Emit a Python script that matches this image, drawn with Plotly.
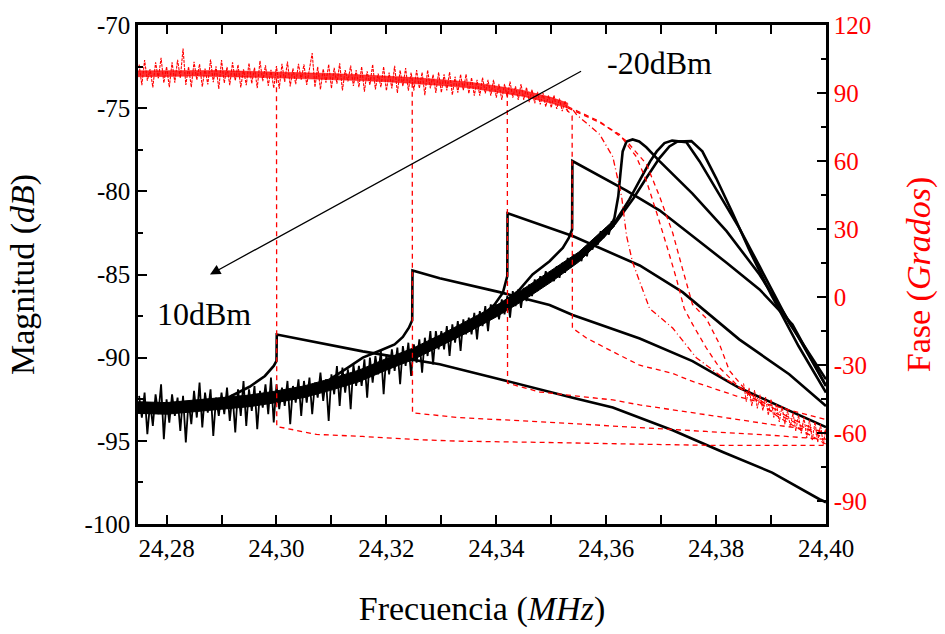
import plotly.graph_objects as go

# ---------------- data ----------------
# common noisy magnitude band (all powers overlap here), dB, every 0.0005 MHz from 24.275
band_f = [round(24.275 + 0.0005 * i, 4) for i in range(174)]
band_mag = [
    -92.3, -93.6, -92.1, -94.6, -92.7, -94.1, -92.2, -93.4, -91.6, -94.9,
    -92.5, -93.9, -92.2, -93.5, -92.4, -94.4, -92.3, -95.1, -92.6, -94.0,
    -92.0, -93.6, -91.5, -94.2, -92.1, -93.3, -91.9, -94.7, -92.4, -93.5,
    -92.1, -93.4, -91.8, -93.8, -92.2, -94.5, -91.9, -93.5, -91.4, -94.1,
    -91.9, -93.2, -91.7, -94.3, -92.0, -93.0, -91.6, -93.4, -91.2, -93.9,
    -91.6, -93.1, -91.8, -92.9, -91.4, -94.0, -91.7, -92.7, -91.3, -93.5,
    -91.4, -92.7, -91.2, -93.4, -91.5, -92.4, -90.9, -92.6, -91.3, -93.8,
    -91.0, -92.2, -90.5, -92.9, -90.6, -92.1, -90.7, -93.1, -90.4, -91.7,
    -90.5, -91.7, -90.1, -92.4, -90.0, -91.5, -89.9, -91.0, -89.6, -92.2,
    -89.8, -91.0, -89.5, -90.8, -89.4, -91.6, -89.3, -90.5, -89.1, -91.1,
    -89.2, -90.3, -88.9, -90.9, -88.8, -89.9, -88.4, -90.4, -88.4, -89.5,
    -88.4, -89.5, -88.1, -89.9, -88.0, -89.1, -87.8, -89.6, -87.7, -88.6,
    -87.6, -88.6, -87.3, -88.9, -87.2, -88.1, -86.9, -88.4, -86.8, -87.6,
    -86.8, -87.7, -86.5, -87.4, -86.3, -87.6, -86.0, -86.9, -85.9, -87.0,
    -85.8, -86.6, -85.6, -86.3, -85.3, -86.0, -85.1, -85.7, -84.8, -85.5,
    -84.8, -85.4, -84.5, -85.2, -84.3, -84.9, -84.0, -84.6, -83.8, -84.3,
    -83.7, -84.2, -83.4, -83.9, -83.1, -83.5, -82.8, -83.2, -82.4, -82.8,
    -82.2, -82.6, -81.8, -82.1,
]
# solid core of that band (upper / lower edge)
core_f = [24.2748, 24.280, 24.285, 24.290, 24.295, 24.300, 24.305, 24.310, 24.315, 24.320,
          24.325, 24.330, 24.335, 24.340, 24.345, 24.350, 24.355, 24.360, 24.3615]
core_hi = [-92.65, -92.7, -92.55, -92.4, -92.25, -92.0, -91.7, -91.25, -90.75, -90.05,
           -89.4, -88.6, -87.75, -86.85, -85.85, -84.75, -83.65, -82.15, -81.7]
core_lo = [-93.35, -93.4, -93.25, -93.1, -92.95, -92.7, -92.4, -91.95, -91.45, -90.75,
           -90.1, -89.3, -88.45, -87.55, -86.55, -85.45, -84.25, -82.65, -82.1]

# magnitude curves, 10 dBm (A) ... -20 dBm (G)
magA_f = [24.2880, 24.2915, 24.2951, 24.2979, 24.2995, 24.3000, 24.30005, 24.3157,
          24.3297, 24.3419, 24.3539, 24.3612, 24.3721, 24.3812, 24.3902, 24.3988, 24.4000]
magA_v = [-92.85, -92.35, -91.75, -91.1, -90.5, -90.2, -88.61, -89.62,
          -90.39, -91.40, -92.41, -93.0, -94.36, -95.67, -96.91, -98.51, -98.69]

magB_f = [24.3097, 24.3130, 24.3157, 24.3190, 24.3215, 24.3230, 24.3241, 24.3247, 24.32475,
          24.3297, 24.3406, 24.3497, 24.3539, 24.3661, 24.3757, 24.3842, 24.3933, 24.4000]
magB_v = [-91.3, -90.6, -90.0, -89.55, -89.2, -88.75, -88.2, -87.75, -84.76,
          -85.23, -86.06, -86.83, -87.43, -88.85, -90.21, -91.81, -93.18, -94.18]

magC_f = [24.3278, 24.3333, 24.3370, 24.3397, 24.3412, 24.3420, 24.34205,
          24.3539, 24.3661, 24.3739, 24.3842, 24.3933, 24.4000]
magC_v = [-89.0, -88.3, -87.6, -86.8, -86.1, -85.1, -81.32,
          -82.69, -84.46, -86.06, -88.9, -91.0, -92.9]

magD_f = [24.3400, 24.3440, 24.3466, 24.3497, 24.3521, 24.3532, 24.3538, 24.35385,
          24.3637, 24.3697, 24.3757, 24.3819, 24.3879, 24.3939, 24.4000]
magD_v = [-87.0, -86.0, -85.0, -84.2, -83.4, -82.8, -82.3, -78.18,
          -79.96, -81.14, -82.69, -84.29, -85.9, -88.0, -91.7]

magE_f = [24.3570, 24.3590, 24.3606, 24.3615, 24.3622, 24.3626, 24.3630, 24.3637, 24.3648,
          24.3660, 24.3673, 24.3697, 24.3757, 24.3819, 24.3879, 24.3939, 24.4000]
magE_v = [-83.5, -82.9, -82.3, -81.6, -80.3, -78.9, -77.6, -77.0, -76.88,
          -77.0, -77.35, -78.18, -80.14, -82.39, -85.0, -88.14, -91.7]

magF_f = [24.3615, 24.3642, 24.3660, 24.3680, 24.3692, 24.3706, 24.3720, 24.3746,
          24.3770, 24.3806, 24.3842, 24.3879, 24.3933, 24.4000]
magF_v = [-81.9, -80.5, -79.4, -78.2, -77.6, -77.1, -76.95, -77.05,
          -78.2, -80.2, -82.2, -84.5, -87.9, -91.3]

magG_f = [24.3615, 24.3650, 24.3673, 24.3697, 24.3715, 24.3730, 24.3755, 24.3775,
          24.3800, 24.3830, 24.3860, 24.3900, 24.3950, 24.4000]
magG_v = [-82.0, -80.4, -79.2, -78.0, -77.3, -77.0, -76.98, -77.6,
          -79.2, -81.3, -83.5, -86.2, -89.3, -92.1]

# common noisy phase band, degrees, every 0.0005 MHz from 24.275
pband_f = [round(24.275 + 0.0005 * i, 4) for i in range(157)]
pband_v = [
    102.5, 93.5, 104.5, 95.5, 100.5, 92.5, 103.5, 96.5, 105.5, 94.5,
    101.6, 92.6, 103.6, 94.6, 104.6, 96.6, 109.6, 93.6, 101.6, 92.6,
    103.8, 95.8, 102.8, 92.8, 100.8, 93.8, 104.8, 94.8, 101.8, 91.8,
    104.5, 94.5, 101.5, 93.5, 103.5, 95.5, 102.5, 92.5, 100.5, 93.5,
    103.2, 94.2, 101.2, 92.2, 104.2, 95.2, 102.2, 93.2, 100.2, 92.2,
    101.9, 91.9, 102.9, 94.9, 103.9, 92.9, 100.9, 93.9, 102.9, 95.9,
    102.6, 93.6, 100.6, 107.6, 92.6, 101.6, 91.6, 100.6, 94.6, 102.6,
    92.1, 101.1, 94.1, 103.1, 91.1, 100.1, 95.1, 102.1, 93.1, 100.1,
    92.6, 101.6, 90.6, 99.6, 93.6, 102.6, 91.6, 98.6, 92.6, 101.6,
    91.0, 99.0, 92.0, 102.0, 90.0, 100.0, 93.0, 101.0, 91.0, 99.0,
    91.1, 100.1, 92.1, 99.1, 89.1, 100.1, 92.1, 98.1, 90.1, 99.1,
    90.2, 98.2, 91.2, 99.2, 89.2, 97.2, 90.2, 98.2, 91.2, 98.2,
    89.8, 96.8, 88.8, 95.8, 88.8, 96.8, 89.8, 95.8, 88.8, 95.8,
    88.0, 94.0, 87.0, 94.0, 88.0, 95.0, 88.0, 93.0, 87.0, 94.0,
    87.0, 92.5, 86.0, 91.5, 85.5, 90.5, 85.0, 90.0, 84.0, 89.0,
    83.5, 89.0, 83.0, 87.5, 82.0, 86.5, 81.5,
]
pcore_f = [24.2748, 24.280, 24.285, 24.290, 24.295, 24.300, 24.305, 24.310, 24.315,
           24.320, 24.325, 24.330, 24.335, 24.340, 24.345, 24.350, 24.353]
pcore_hi = [99.8, 99.9, 100.1, 99.9, 99.6, 99.3, 99.1, 98.6, 98.1,
            97.6, 96.8, 95.9, 94.9, 93.1, 91.1, 88.1, 85.6]
pcore_lo = [97.2, 97.3, 97.5, 97.3, 97.0, 96.7, 96.5, 96.0, 95.5,
            95.0, 94.2, 93.3, 92.3, 90.5, 88.5, 85.5, 83.4]

phA_f = [24.3000, 24.30005, 24.3073, 24.3157, 24.3248, 24.3333, 24.3479, 24.3661, 24.3782, 24.3902, 24.4000]
phA_v = [96.5, -57.0, -60.5, -61.4, -62.7, -63.5, -64.0, -64.8, -65.3, -65.3, -65.3]

phB_f = [24.3247, 24.32475, 24.3333, 24.3479, 24.3661, 24.3782, 24.3902, 24.4000]
phB_v = [94.5, -51.0, -53.1, -54.9, -57.5, -59.2, -60.9, -62.7]

phC_f = [24.3420, 24.34205, 24.3479, 24.3612, 24.3661, 24.3770, 24.3902, 24.4000]
phC_v = [90.5, -37.9, -41.8, -45.3, -47.5, -51.4, -56.2, -59.2]

phD_f = [24.3527, 24.3538, 24.35385, 24.3564, 24.3619, 24.3661, 24.3721, 24.3751, 24.3842, 24.3933, 24.4000]
phD_v = [83.0, 80.0, -13.6, -18.0, -24.9, -30.0, -33.6, -36.6, -44.0, -49.7, -54.0]

phE_f = [24.3540, 24.3546, 24.3588, 24.3612, 24.3628, 24.3637, 24.3648, 24.3679, 24.3721,
         24.3764, 24.3812, 24.3879, 24.3933, 24.4000]
phE_v = [82.5, 80.5, 71.8, 61.9, 44.5, 27.1, 15.4, -5.0, -13.6,
         -26.7, -35.3, -45.3, -53.1, -60.5]

phF_f = [24.3530, 24.3588, 24.3624, 24.3655, 24.3673, 24.3692, 24.3710, 24.3728, 24.3742,
         24.3757, 24.3782, 24.3806, 24.3842, 24.3897, 24.3951, 24.4000]
phF_v = [83.5, 77.0, 71.8, 61.9, 51.4, 37.1, 22.8, 8.0, -5.0,
         -11.9, -22.3, -31.0, -39.7, -49.7, -56.2, -62.7]

phG_f = [24.3530, 24.3588, 24.3637, 24.3673, 24.3697, 24.3721, 24.3739, 24.3757, 24.3782,
         24.3806, 24.3824, 24.3861, 24.3915, 24.4000]
phG_v = [84.0, 77.5, 68.8, 58.8, 44.5, 28.4, 12.4, -3.2, -9.3,
         -20.6, -32.3, -43.1, -53.1, -64.8]

# noisy tail of the phase curves near the right edge
ptail_f = [round(24.385 + 0.0005 * i, 4) for i in range(31)]
ptail_v = [-38, -46, -40, -48, -41, -49, -43, -50, -44, -52, -45, -53, -47, -55, -48, -56,
           -50, -57, -51, -59, -52, -60, -53, -62, -54, -63, -55, -64, -56, -65, -58]

x_ticks = [24.28, 24.30, 24.32, 24.34, 24.36, 24.38, 24.40]
mag_ticks = [-100, -95, -90, -85, -80, -75, -70]
mag_labels = ["-100", "-95", "-90", "-85", "-80", "-75", "-70"]
ph_ticks = [-90, -60, -30, 0, 30, 60, 90, 120]
ph_labels = ["-90", "-60", "-30", "0", "30", "60", "90", "120"]

# ---------------- figure ----------------
FONT = "Liberation Serif"
RED = "#ff0000"
fig = go.Figure()

fig.add_trace(go.Scatter(x=core_f + core_f[::-1], y=core_hi + core_lo[::-1], mode="lines",
                         fill="toself", fillcolor="black", line=dict(color="black", width=1),
                         yaxis="y", hoverinfo="skip"))
fig.add_trace(go.Scatter(x=band_f, y=band_mag, mode="lines",
                         line=dict(color="black", width=1.8, simplify=False), yaxis="y"))
for fx, fy in [(magA_f, magA_v), (magB_f, magB_v), (magC_f, magC_v), (magD_f, magD_v),
               (magE_f, magE_v), (magF_f, magF_v), (magG_f, magG_v)]:
    fig.add_trace(go.Scatter(x=fx, y=fy, mode="lines",
                             line=dict(color="black", width=2.6, simplify=False), yaxis="y"))

fig.add_trace(go.Scatter(x=pcore_f + pcore_f[::-1], y=pcore_hi + pcore_lo[::-1], mode="lines",
                         fill="toself", fillcolor="rgba(255,0,0,0.8)",
                         line=dict(color=RED, width=0.5), yaxis="y2", hoverinfo="skip"))
fig.add_trace(go.Scatter(x=pband_f, y=pband_v, mode="lines",
                         line=dict(color=RED, width=1.1, dash="3px,1px", simplify=False),
                         yaxis="y2"))
for fx, fy in [(phA_f, phA_v), (phB_f, phB_v), (phC_f, phC_v), (phD_f, phD_v),
               (phF_f, phF_v), (phG_f, phG_v)]:
    fig.add_trace(go.Scatter(x=fx, y=fy, mode="lines",
                             line=dict(color=RED, width=1.3, dash="5px,4px", simplify=False),
                             yaxis="y2"))
fig.add_trace(go.Scatter(x=phE_f, y=phE_v, mode="lines",
                         line=dict(color=RED, width=1.3, dash="6px,3px,1px,3px", simplify=False),
                         yaxis="y2"))
fig.add_trace(go.Scatter(x=ptail_f, y=ptail_v, mode="lines",
                         line=dict(color=RED, width=1.0, dash="3px,1px", simplify=False),
                         yaxis="y2"))

fig.add_annotation(x=24.2879, y=-85.0, ax=24.3557, ay=-72.73, xref="x", yref="y",
                   axref="x", ayref="y", showarrow=True, arrowhead=2, arrowsize=1.6,
                   arrowwidth=1.3, arrowcolor="black", text="")
fig.add_annotation(x=24.3597, y=-72.3, xref="x", yref="y", text="-20dBm", showarrow=False,
                   xanchor="left", yanchor="middle", font=dict(family=FONT, size=32, color="black"))
fig.add_annotation(x=24.2779, y=-87.4, xref="x", yref="y", text="10dBm", showarrow=False,
                   xanchor="left", yanchor="middle", font=dict(family=FONT, size=32, color="black"))

fig.update_layout(
    width=945, height=634, margin=dict(l=138, r=119, t=19, b=108),
    paper_bgcolor="white", plot_bgcolor="white", showlegend=False,
    separators=",.",
    font=dict(family=FONT, size=25, color="black"),
    xaxis=dict(range=[24.2748, 24.40], tickvals=x_ticks, tickformat=".2f",
               ticks="inside", ticklen=9, tickwidth=2, tickcolor="black",
               minor=dict(dtick=0.01, tick0=24.28, ticks="inside", ticklen=5, tickwidth=2,
                          tickcolor="black"),
               showline=True, linewidth=2.5, linecolor="black", mirror="allticks",
               showgrid=False, zeroline=False,
               tickfont=dict(family=FONT, size=25, color="black"),
               title=dict(text="Frecuencia (<i>MHz</i>)", standoff=36,
                          font=dict(family=FONT, size=34, color="black"))),
    yaxis=dict(range=[-100, -70], tickvals=mag_ticks, ticktext=mag_labels,
               ticks="inside", ticklen=9, tickwidth=2, tickcolor="black",
               minor=dict(dtick=2.5, tick0=-100, ticks="inside", ticklen=5, tickwidth=2,
                          tickcolor="black"),
               showline=True, linewidth=2.5, linecolor="black", mirror=True,
               showgrid=False, zeroline=False,
               tickfont=dict(family=FONT, size=25, color="black"),
               title=dict(text="Magnitud (<i>dB</i>)", standoff=40,
                          font=dict(family=FONT, size=34, color="black"))),
    yaxis2=dict(range=[-100, 120], tickvals=ph_ticks, ticktext=ph_labels,
                overlaying="y", side="right",
                ticks="inside", ticklen=9, tickwidth=2, tickcolor="black",
                minor=dict(dtick=15, tick0=0, ticks="inside", ticklen=5, tickwidth=2,
                           tickcolor="black"),
                showline=True, linewidth=2.5, linecolor="black",
                showgrid=False, zeroline=False,
                tickfont=dict(family=FONT, size=25, color=RED),
                title=dict(text="Fase (<i>Grados</i>)", standoff=36,
                           font=dict(family=FONT, size=34, color=RED))),
)

fig.write_html("out.html")
